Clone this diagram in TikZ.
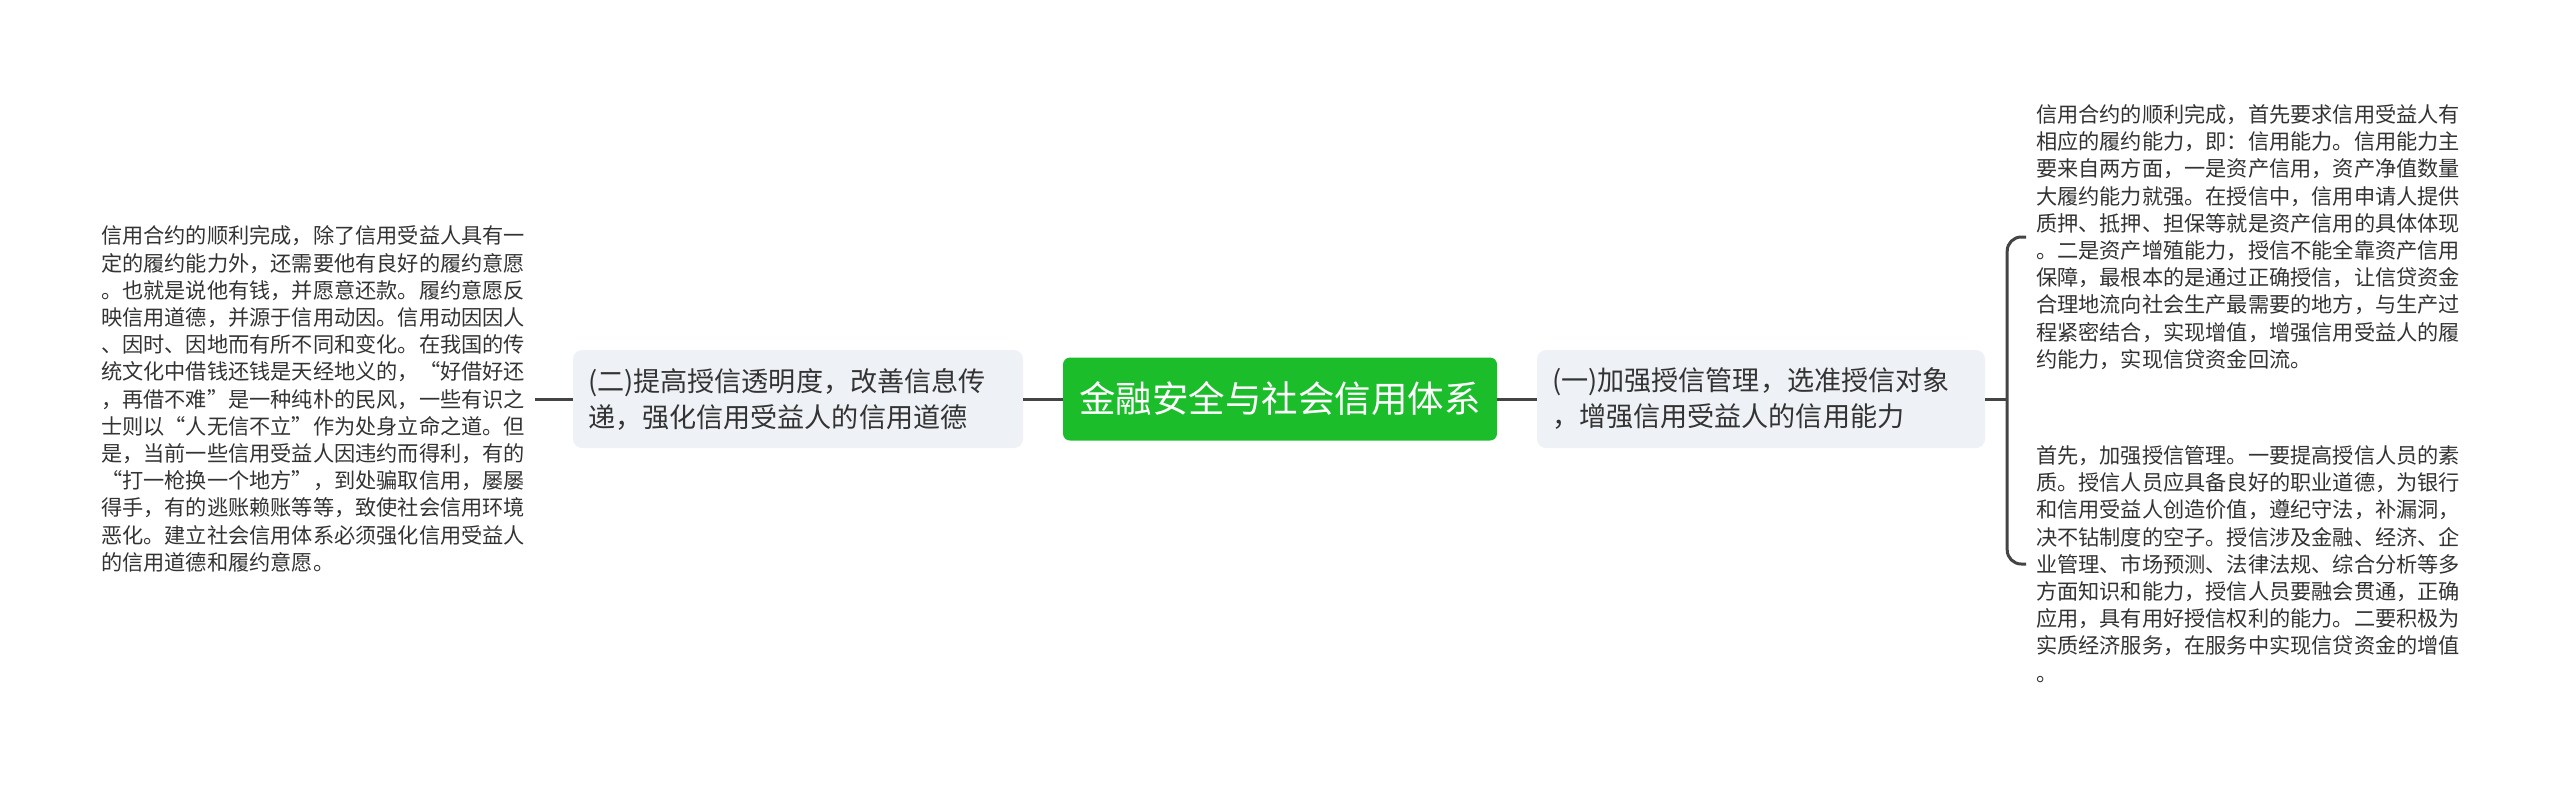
\documentclass[tikz,border=0pt]{standalone}
\usepackage{fontspec}
\newfontfamily\cjk{Noto Sans CJK SC}
\usetikzlibrary{calc}

\begin{document}
\begin{tikzpicture}[
    every node/.style={font=\cjk},
    % pixel coordinates: x to the right, y downwards, 1px -> 1pt
    x=1pt, y=-1pt,
]

% ---------------------------------------------------------------- colours
\definecolor{rootgreen}{HTML}{1BBD2B}
\definecolor{branchfill}{HTML}{EEF1F5}
\definecolor{linkcolor}{HTML}{444444}
\definecolor{textcolor}{HTML}{333333}

\tikzset{
    root/.style={rectangle, rounded corners=7pt, fill=rootgreen, text=white,
                 minimum width=434pt, minimum height=83pt, inner sep=0pt,
                 font=\cjk\fontsize{36.5}{44}\selectfont},
    branch/.style={rectangle, rounded corners=9pt, fill=branchfill,
                   text=textcolor, minimum height=98pt, inner xsep=15pt,
                   inner ysep=0pt, align=left,
                   font=\cjk\fontsize{27.1}{36}\selectfont},
    leaf/.style={text=textcolor, inner sep=0pt, outer xsep=10pt, align=left,
                 font=\cjk\fontsize{21.2}{27.2}\selectfont},
    link/.style={linkcolor, line width=3pt},
}

\useasboundingbox (0,0) rectangle (2560,785);

% ---------------------------------------------------------------- the root
\node[root] (root) at (1280, 399) {金融安全与社会信用体系};

% ---------------------------------------------------------------- the two branches
\node[branch, text width=420pt] (two) at (798, 399)
    {(二)提高授信透明度，改善信息传\\
     递，强化信用受益人的信用道德};
\node[branch, text width=418pt] (one) at (1761, 399)
    {(一)加强授信管理，选准授信对象\\
     ，增强信用受益人的信用能力};

% ---------------------------------------------------------------- leaves
\node[leaf, anchor=west] (twoleaf) at (91, 399)
    {信用合约的顺利完成，除了信用受益人具有一\\
     定的履约能力外，还需要他有良好的履约意愿\\
     。也就是说他有钱，并愿意还款。履约意愿反\\
     映信用道德，并源于信用动因。信用动因因人\\
     、因时、因地而有所不同和变化。在我国的传\\
     统文化中借钱还钱是天经地义的，“好借好还\\
     ，再借不难”是一种纯朴的民风，一些有识之\\
     士则以“人无信不立”作为处身立命之道。但\\
     是，当前一些信用受益人因违约而得利，有的\\
     “打一枪换一个地方”，到处骗取信用，屡屡\\
     得手，有的逃账赖账等等，致使社会信用环境\\
     恶化。建立社会信用体系必须强化信用受益人\\
     的信用道德和履约意愿。};

\node[leaf, anchor=west] (oneleafa) at (2026, 237)
    {信用合约的顺利完成，首先要求信用受益人有\\
     相应的履约能力，即：信用能力。信用能力主\\
     要来自两方面，一是资产信用，资产净值数量\\
     大履约能力就强。在授信中，信用申请人提供\\
     质押、抵押、担保等就是资产信用的具体体现\\
     。二是资产增殖能力，授信不能全靠资产信用\\
     保障，最根本的是通过正确授信，让信贷资金\\
     合理地流向社会生产最需要的地方，与生产过\\
     程紧密结合，实现增值，增强信用受益人的履\\
     约能力，实现信贷资金回流。};

\node[leaf, anchor=west] (oneleafb) at (2026, 564)
    {首先，加强授信管理。一要提高授信人员的素\\
     质。授信人员应具备良好的职业道德，为银行\\
     和信用受益人创造价值，遵纪守法，补漏洞，\\
     决不钻制度的空子。授信涉及金融、经济、企\\
     业管理、市场预测、法律法规、综合分析等多\\
     方面知识和能力，授信人员要融会贯通，正确\\
     应用，具有用好授信权利的能力。二要积极为\\
     实质经济服务，在服务中实现信贷资金的增值\\
     。};

% ---------------------------------------------------------------- links
\draw[link] (root) -- (two);
\draw[link] (root) -- (one);
\draw[link] (two) -- (twoleaf);

% the bracket on the right
\coordinate (fork) at ($(one.east)+(22, 0)$);
\draw[link] (one) -- (fork);
\draw[link, rounded corners=14pt]
    (oneleafa.west) -| (fork) |- (oneleafb.west);

\end{tikzpicture}
\end{document}
